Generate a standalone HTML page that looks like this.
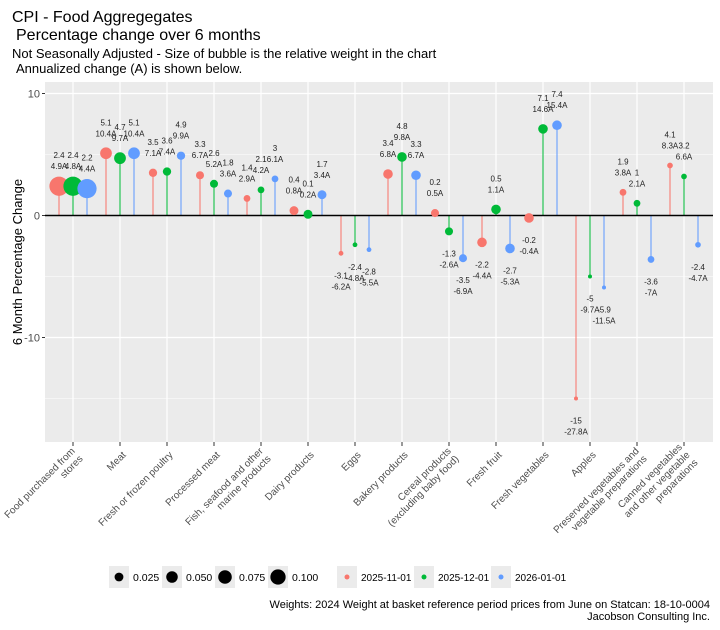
<!DOCTYPE html>
<html><head><meta charset="utf-8"><style>
body{margin:0;background:#fff;}
svg{display:block;font-family:"Liberation Sans",Arial,sans-serif;}
</style></head><body>
<svg id="chart" width="720" height="630" viewBox="0 0 720 630">
<text x="12" y="22" font-size="16">CPI - Food Aggregegates</text>
<text x="16" y="40" font-size="16">Percentage change over 6 months</text>
<text x="12" y="58" font-size="13">Not Seasonally Adjusted - Size of bubble is the relative weight in the chart</text>
<text x="16" y="73" font-size="13">Annualized change (A) is shown below.</text>
<rect x="45" y="82" width="668" height="360" fill="#ebebeb"/>
<g id="grid"></g>
<g id="marks"></g>
<g id="xlabels"></g>
<text transform="translate(22,262) rotate(-90)" text-anchor="middle" font-size="13">6 Month Percentage Change</text>
<g id="legend"></g>
<text x="710" y="608" text-anchor="end" font-size="11">Weights: 2024 Weight at basket reference period prices  from June on Statcan: 18-10-0004</text>
<text x="710" y="620" text-anchor="end" font-size="11">Jacobson Consulting Inc.</text>
</svg>
<script>
const categories = ["Food purchased from|stores","Meat","Fresh or frozen poultry","Processed meat","Fish, seafood and other|marine products","Dairy products","Eggs","Bakery products","Cereal products|(excluding baby food)","Fresh fruit","Fresh vegetables","Apples","Preserved vegetables and|vegetable preparations","Canned vegetables|and other vegetable|preparations"];
const dates = ["2025-11-01","2025-12-01","2026-01-01"];
const colors = ["#f8766d","#00ba38","#619cff"];
const valNov = [2.4,5.1,3.5,3.3,1.4,0.4,-3.1,3.4,0.2,-2.2,-0.2,-15,1.9,4.1];
const valDec = [2.4,4.7,3.6,2.6,2.1,0.1,-2.4,4.8,-1.3,0.5,7.1,-5,1,3.2];
const valJan = [2.2,5.1,4.9,1.8,3,1.7,-2.8,3.3,-3.5,-2.7,7.4,-5.9,-3.6,-2.4];
const annNov = ["4.9","10.4","7.1","6.7","2.9","0.8","-6.2","6.8","0.5","-4.4","-0.4","-27.8","3.8","8.3"];
const annDec = ["4.8","9.7","7.4","5.2","4.2","0.2","-4.8","9.8","-2.6","1.1","14.6","-9.7","2.1","6.6"];
const annJan = ["4.4","10.4","9.9","3.6","6.1","3.4","-5.5","6.7","-6.9","-5.3","15.4","-11.5","-7","-4.7"];
const weights = [0.16,0.06,0.03,0.028,0.02,0.035,0.01,0.04,0.028,0.04,0.04,0.007,0.02,0.014];
const yTicks = [-10,0,10];
const yMinor = [-15,-5,5];
const sizeLegend = [0.025,0.05,0.075,0.1];

const NS="http://www.w3.org/2000/svg";
const yScale = v => 215.5 - v*12.2;
const xScale = i => 73 + i*47;
const rScale = w => Math.sqrt(w)*24;
function mk(tag, attrs, parent){const e=document.createElementNS(NS,tag);for(const k in attrs)e.setAttribute(k,attrs[k]);parent.appendChild(e);return e;}

const grid=document.getElementById('grid');
yMinor.forEach(v=>{const l=mk('line',{x1:45,x2:713,y1:yScale(v),y2:yScale(v),stroke:'#fff','stroke-width':0.6},grid);

});
yTicks.forEach(v=>{const l=mk('line',{x1:45,x2:713,y1:yScale(v),y2:yScale(v),stroke:'#fff','stroke-width':1.2},grid);


const t=mk('text',{x:40,y:yScale(v)+4,'text-anchor':'end','font-size':11,fill:'#4d4d4d'},grid);t.textContent=v;


mk('line',{x1:42,x2:45,y1:yScale(v),y2:yScale(v),stroke:'#333'},grid);});
categories.forEach((c,i)=>{const l=mk('line',{x1:xScale(i),x2:xScale(i),y1:82,y2:442,stroke:'#fff','stroke-width':1.2},grid);


mk('line',{x1:xScale(i),x2:xScale(i),y1:442,y2:446,stroke:'#333'},grid);});

const marks=document.getElementById('marks');
const vals=[valNov,valDec,valJan], anns=[annNov,annDec,annJan];
const offs=[-14,0,14];
for(let s=0;s<3;s++){
  categories.forEach((c,i)=>{
    const v=vals[s][i], x=xScale(i)+offs[s], y=yScale(v);
    const st=mk('line',{x1:x,x2:x,y1:yScale(0),y2:y,stroke:colors[s],'stroke-width':1.3,opacity:0.8},marks);
    
    
  });
}
mk('line',{x1:45,x2:713,y1:yScale(0),y2:yScale(0),stroke:'#000','stroke-width':1.5},marks);
for(let s=0;s<3;s++){
  categories.forEach((c,i)=>{
    const v=vals[s][i], x=xScale(i)+offs[s], y=yScale(v);
    const p=mk('circle',{cx:x,cy:y,r:rScale(weights[i]),fill:colors[s]},marks);
    
    
    const y1 = v>=0 ? y-28 : y+25, y2 = v>=0 ? y-17 : y+36;
    const t1=mk('text',{x:x,y:y1,'text-anchor':'middle','font-size':8,fill:'#222'},marks);t1.textContent=v;
    
    
    const t2=mk('text',{x:x,y:y2,'text-anchor':'middle','font-size':8,fill:'#222'},marks);t2.textContent=anns[s][i]+'A';
    
    
  });
}

const xl=document.getElementById('xlabels');
categories.forEach((c,i)=>{
  const g=mk('g',{transform:`translate(${xScale(i)+4},453) rotate(-45)`},xl);
  
  
  const lines=c.split('|');
  lines.forEach((ln,k)=>{const t=mk('text',{x:0,y:(k-(lines.length-1)/2)*11+3.5,'text-anchor':'end','font-size':10,fill:'#4d4d4d'},g);t.textContent=ln;});
});

const lg=document.getElementById('legend');
sizeLegend.forEach((w,k)=>{const x=109+k*53;
  mk('rect',{x:x,y:566,width:20,height:22,fill:'#ebebeb'},lg);
  const c=mk('circle',{cx:x+10,cy:577,r:rScale(w)*0.85+1.2,fill:'#000'},lg);
  
  
  const t=mk('text',{x:x+24,y:581,'font-size':10.5},lg);t.textContent=w.toFixed(3);
  
  });
dates.forEach((d,k)=>{const x=337+[0,77,154][k];
  mk('rect',{x:x,y:566,width:20,height:22,fill:'#ebebeb'},lg);
  const c=mk('circle',{cx:x+10,cy:577,r:2.5,fill:colors[k]},lg);
  
  
  const t=mk('text',{x:x+24,y:581,'font-size':10},lg);t.textContent=d;
  
  });
</script>
</body></html>
